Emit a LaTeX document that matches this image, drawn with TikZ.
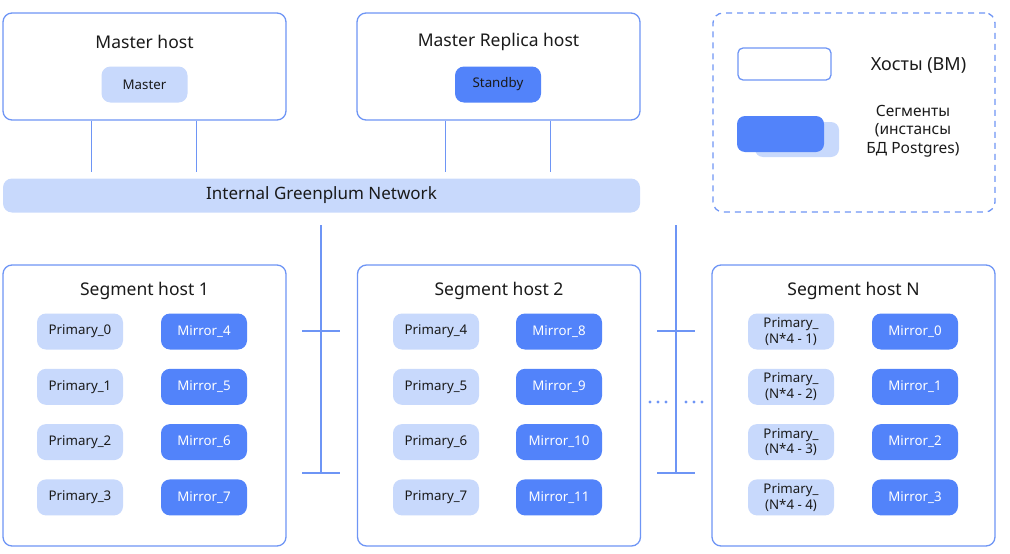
\documentclass[tikz,border=0pt]{standalone}
\usepackage{fontspec}
\setmainfont{Noto Sans}
\usetikzlibrary{calc}
\definecolor{hostline}{HTML}{6E95F5}
\definecolor{primfill}{HTML}{C8D9FC}
\definecolor{mirrfill}{HTML}{5283FA}
\definecolor{ink}{HTML}{1A1A1A}

\begin{document}
\begin{tikzpicture}[x=1pt,y=-1pt,
  hostbox/.style={draw=hostline, line width=1.3pt, rounded corners=9pt, fill=white, minimum width=283pt, inner sep=0pt},
  hosttitle/.style={font=\fontsize{17.5}{20}\selectfont, text=ink},
  inst/.style={rounded corners=9pt, minimum width=86pt, minimum height=36pt, inner sep=0pt, align=center, font=\fontsize{13.3}{15.5}\selectfont},
  prim/.style={inst, fill=primfill, text=ink},
  mirr/.style={inst, fill=mirrfill, text=white},
  link/.style={draw=hostline, line width=1.3pt}]
\useasboundingbox (0,0) rectangle (1010,554);

% Master hosts
\node[hostbox, minimum height=107pt] (mhost) at (144.5,66.5) {};
\node[hosttitle] (mhost title) at (144.5,41.5) {Master host};
\node[prim] (master) at (144.5,84.5) {Master};
\node[hostbox, minimum height=107pt] (rhost) at (498.5,66.5) {};
\node[hosttitle] (rhost title) at (498.5,41.5) {Master Replica host};
\node[inst, fill=mirrfill, text=ink] (standby) at (498,84.5) {Standby};

% Network
\node[fill=primfill, rounded corners=9pt, minimum width=637pt, minimum height=34pt, inner sep=0pt, text=ink, font=\fontsize{17}{20}\selectfont] (net) at (321.5,195.5) {Internal Greenplum Network};
\foreach \h in {mhost,rhost}
  \foreach \dx in {89,194} {
    \coordinate (\h\dx) at ($(\h.south west)+(\dx,0)$);
    \draw[link, shorten >=6pt] (\h\dx) -- (\h\dx |- net.north);
  }

% Segment hosts
\foreach \i/\cx/\name in {1/144.5/Segment host 1, 2/499/Segment host 2, n/853.5/Segment host N} {
  \node[hostbox, minimum height=281pt] (seg\i) at (\cx,405.5) {};
  \node[hosttitle] (seg\i title) at (\cx,291) {\name};
}
\foreach \r/\p/\m in {0/0/4, 1/1/5, 2/2/6, 3/3/7} {
  \node[prim] (p\p) at (80,{331.5+55.3*\r}) {Primary\_\p};
  \node[mirr] (m\m) at (204,{331.5+55.3*\r}) {Mirror\_\m};
}
\foreach \r/\p/\m in {0/4/8, 1/5/9, 2/6/10, 3/7/11} {
  \node[prim] (p\p) at (436,{331.5+55.3*\r}) {Primary\_\p};
  \node[mirr] (m\m) at (559,{331.5+55.3*\r}) {Mirror\_\m};
}
\foreach \r/\k in {0/1, 1/2, 2/3, 3/4} {
  \node[prim] (pn\k) at (791,{331.5+55.3*\r}) {Primary\_\\(N*4 - \k)};
  \node[mirr] (mn\r) at (915,{331.5+55.3*\r}) {Mirror\_\r};
}

% Bus lines
\foreach \b/\bx in {l/321, r/676} {
  \coordinate (bus\b top) at (\bx,225);
  \coordinate (bus\b bot) at (\bx,473);
  \draw[link] (bus\b top) -- (bus\b bot);
  \foreach \y in {331,473}
    \draw[link] ({\bx-19},\y) -- ({\bx+19},\y);
}
\foreach \x in {650,658,666,686,694,702}
  \fill[hostline] (\x,402) circle (1.6);

% Legend
\node[draw=hostline, line width=1.3pt, dash pattern=on 6pt off 5pt, rounded corners=10pt, minimum width=282pt, minimum height=199pt, inner sep=0pt] (legend) at (854,112.5) {};
\node[draw=hostline, line width=1.3pt, rounded corners=5pt, minimum width=93pt, minimum height=32pt, inner sep=0pt] (lhost) at (784.5,64) {};
\node[text=ink, font=\fontsize{18}{21}\selectfont] (lhost text) at (918.5,65) {Хосты (ВМ)};
\node[fill=primfill, rounded corners=8pt, minimum width=84pt, minimum height=35pt, inner sep=0pt] (lseg back) at (797,139.5) {};
\node[fill=mirrfill, rounded corners=8pt, minimum width=87pt, minimum height=36pt, inner sep=0pt] (lseg front) at (780.5,134) {};
\node[align=center, text=ink, font=\fontsize{15.5}{18.5}\selectfont] (lseg text) at (913,131) {Сегменты\\(инстансы\\БД Postgres)};
\end{tikzpicture}
\end{document}
